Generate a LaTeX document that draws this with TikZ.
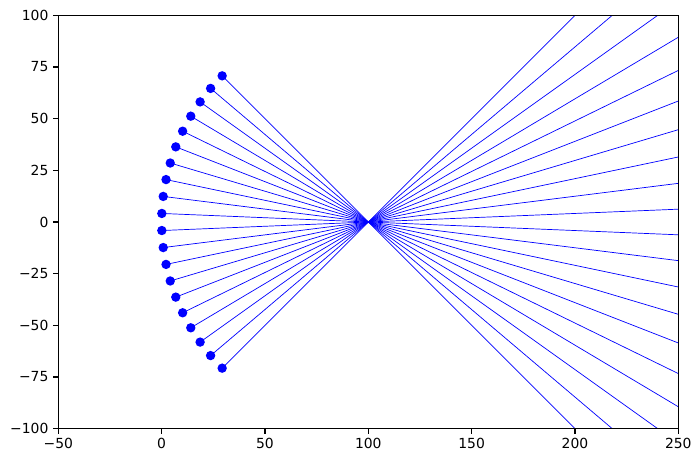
\documentclass[tikz,border=0pt]{standalone}
\usepackage{fontspec}
\setmainfont{DejaVu Sans}
\begin{document}
\begin{tikzpicture}[x=1pt,y=1pt,
  ray/.style={draw=blue, line width=0.7pt},
  dot/.style={fill=blue, draw=none},
  tick/.style={draw=black, line width=1.1pt},
  ticklabel/.style={font=\fontsize{13.9}{16}\selectfont, inner sep=0pt}]
\useasboundingbox (0,0) rectangle (700,462);
\begin{scope}
  \clip (58.3,33.3) rectangle (678.3,446.7);
  \begin{scope}[shift={(161.63,240)}, x=2.0667pt, y=2.067pt]
    \foreach \i in {0,...,19} {
      \pgfmathsetmacro\th{-45+\i*90/19}
      \draw[ray] ({100-100*cos(\th)},{100*sin(\th)}) -- ({100+200*cos(\th)},{-200*sin(\th)});
    }
    \foreach \i in {0,...,19} {
      \pgfmathsetmacro\th{-45+\i*90/19}
      \fill[dot] ({100-100*cos(\th)},{100*sin(\th)}) circle[radius=4.7pt];
    }
  \end{scope}
\end{scope}
\draw[line width=1.1pt] (58.3,33.3) rectangle (678.3,446.7);
\begin{scope}[shift={(161.63,240)}, x=2.0667pt, y=2.067pt]
  \foreach \x/\t in {-50/−50,0/0,50/50,100/100,150/150,200/200,250/250} {
    \draw[tick] (\x,-100) -- ++(0,-4.86pt);
    \node[ticklabel, anchor=north] at ([yshift=-9.7pt]\x,-100) {\t};
  }
  \foreach \y/\t in {-100/−100,-75/−75,-50/−50,-25/−25,0/0,25/25,50/50,75/75,100/100} {
    \draw[tick] (-50,\y) -- ++(-4.86pt,0);
    \node[ticklabel, anchor=east] at ([xshift=-9.7pt]-50,\y) {\t};
  }
\end{scope}
\end{tikzpicture}
\end{document}
